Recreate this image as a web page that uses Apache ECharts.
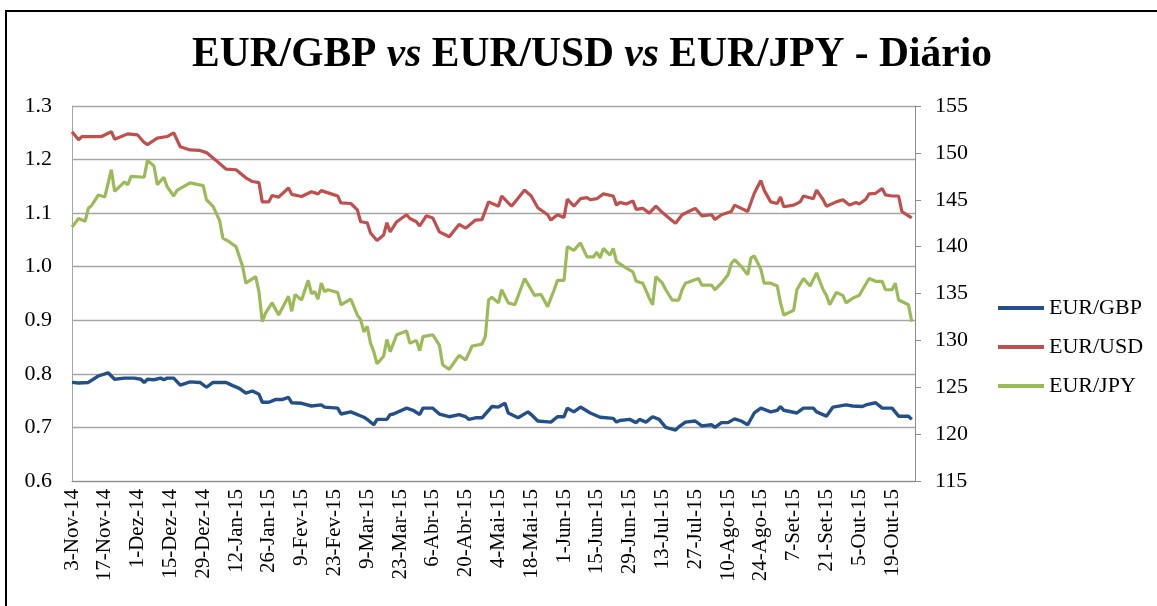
<!DOCTYPE html>
<html>
<head>
<meta charset="utf-8">
<script src="https://cdn.jsdelivr.net/npm/echarts@6/dist/echarts.min.js"></script>
<style>
  html, body { margin: 0; padding: 0; background: #fff; }
  #chart { width: 1157px; height: 606px; }
</style>
</head>
<body>
<div id="chart"></div>
<script>
// x = dia útil a contar de 3-Nov-14 (um rótulo a cada 10 dias)
const tickLabels = [
  "3-Nov-14", "17-Nov-14", "1-Dez-14", "15-Dez-14", "29-Dez-14", "12-Jan-15",
  "26-Jan-15", "9-Fev-15", "23-Fev-15", "9-Mar-15", "23-Mar-15", "6-Abr-15",
  "20-Abr-15", "4-Mai-15", "18-Mai-15", "1-Jun-15", "15-Jun-15", "29-Jun-15",
  "13-Jul-15", "27-Jul-15", "10-Ago-15", "24-Ago-15", "7-Set-15", "21-Set-15",
  "5-Out-15", "19-Out-15"
];
const seriesNames = ["EUR/GBP", "EUR/USD", "EUR/JPY"];

const eurGbp = [
  [0,0.784],[2,0.783],[5,0.784],[8,0.796],[11,0.802],[13,0.790],[16,0.792],[19,0.792],
  [21,0.790],[22,0.784],[23,0.790],[25,0.789],[27,0.792],[28,0.789],[29,0.792],[31,0.792],
  [33,0.779],[36,0.785],[39,0.784],[41,0.775],[43,0.784],[47,0.784],[49,0.778],[51,0.773],
  [53,0.764],[55,0.768],[57,0.762],[58,0.747],[60,0.747],[62,0.752],[64,0.752],[66,0.756],
  [67,0.746],[70,0.745],[73,0.740],[76,0.742],[77,0.738],[81,0.736],[82,0.725],[85,0.729],
  [89,0.719],[90,0.715],[92,0.705],[93,0.715],[96,0.715],[97,0.724],[98,0.725],[102,0.736],
  [104,0.732],[106,0.724],[107,0.736],[110,0.736],[112,0.725],[115,0.720],[118,0.724],[120,0.720],
  [121,0.715],[123,0.718],[125,0.718],[128,0.739],[130,0.738],[132,0.745],[133,0.727],[136,0.718],
  [139,0.729],[140,0.724],[142,0.712],[146,0.710],[148,0.720],[150,0.720],[151,0.736],[153,0.729],
  [155,0.738],[158,0.727],[161,0.719],[165,0.717],[166,0.710],[167,0.713],[170,0.715],[172,0.709],
  [173,0.715],[175,0.710],[177,0.720],[179,0.715],[181,0.700],[184,0.695],[185,0.701],[187,0.710],
  [190,0.712],[192,0.703],[195,0.705],[196,0.700],[198,0.709],[200,0.709],[202,0.716],[204,0.712],
  [206,0.705],[208,0.727],[210,0.736],[213,0.729],[215,0.732],[216,0.739],[217,0.732],[221,0.727],
  [223,0.736],[226,0.736],[227,0.729],[230,0.721],[232,0.738],[236,0.742],[238,0.740],[241,0.739],
  [242,0.742],[245,0.746],[247,0.736],[250,0.736],[252,0.721],[255,0.721],[256,0.715]
];

const eurUsd = [
  [0,1.252],[2,1.237],[3,1.243],[9,1.243],[12,1.252],[13,1.238],[17,1.248],[20,1.246],
  [22,1.232],[23,1.228],[26,1.240],[29,1.243],[31,1.250],[33,1.224],[36,1.218],[39,1.217],
  [41,1.213],[44,1.198],[47,1.182],[50,1.181],[53,1.166],[55,1.159],[57,1.157],[58,1.121],
  [60,1.121],[61,1.133],[63,1.130],[66,1.147],[67,1.135],[70,1.131],[73,1.140],[75,1.136],
  [76,1.142],[79,1.136],[81,1.132],[82,1.119],[85,1.118],[87,1.106],[88,1.084],[90,1.082],
  [91,1.063],[93,1.049],[95,1.059],[96,1.082],[97,1.065],[99,1.084],[102,1.097],[103,1.090],
  [105,1.084],[106,1.076],[108,1.095],[110,1.091],[112,1.065],[115,1.056],[118,1.079],[120,1.072],
  [123,1.087],[125,1.088],[127,1.121],[130,1.113],[131,1.132],[133,1.119],[134,1.113],[138,1.143],
  [140,1.132],[142,1.110],[145,1.097],[146,1.087],[148,1.097],[150,1.092],[151,1.126],[153,1.113],
  [155,1.127],[157,1.129],[158,1.125],[160,1.127],[162,1.136],[165,1.132],[166,1.115],[167,1.120],
  [169,1.117],[171,1.123],[172,1.107],[174,1.109],[176,1.100],[178,1.113],[180,1.101],[183,1.086],
  [184,1.081],[186,1.097],[188,1.103],[190,1.109],[192,1.095],[195,1.097],[196,1.088],[198,1.097],
  [201,1.103],[202,1.115],[206,1.103],[208,1.137],[210,1.161],[211,1.143],[213,1.121],[215,1.118],
  [216,1.130],[217,1.112],[220,1.115],[222,1.121],[223,1.132],[226,1.127],[227,1.143],[229,1.125],
  [230,1.113],[233,1.121],[235,1.125],[237,1.115],[239,1.120],[240,1.117],[242,1.126],[243,1.136],
  [245,1.137],[247,1.146],[248,1.134],[250,1.132],[252,1.132],[253,1.103],[256,1.091]
];

const eurJpy = [
  [0,142.1],[2,143.0],[4,142.7],[5,144.1],[6,144.4],[8,145.5],[10,145.3],[12,148.2],
  [13,145.9],[16,146.9],[17,146.6],[18,147.5],[22,147.4],[23,149.2],[25,148.6],[26,146.6],
  [28,147.4],[29,146.4],[31,145.4],[32,146.0],[36,146.8],[40,146.5],[41,145.0],[43,144.3],
  [45,142.8],[46,140.9],[48,140.5],[50,140.0],[52,137.9],[53,136.1],[56,136.8],[57,135.2],
  [58,132.0],[59,132.9],[61,134.0],[63,132.7],[66,134.7],[67,133.1],[68,134.9],[70,134.3],
  [72,136.4],[73,135.0],[74,135.2],[75,134.4],[76,136.1],[77,135.2],[78,135.4],[81,135.1],
  [82,133.8],[85,134.4],[87,132.7],[88,132.2],[89,130.9],[90,131.5],[91,129.7],[92,128.8],
  [93,127.5],[95,128.3],[96,130.1],[97,128.8],[99,130.6],[102,131.0],[103,129.7],[105,130.0],
  [106,128.9],[107,130.4],[110,130.6],[112,129.5],[113,127.4],[115,126.9],[118,128.4],[120,127.9],
  [122,129.4],[125,129.6],[126,130.4],[127,134.3],[128,134.6],[130,134.0],[131,135.4],[133,134.0],
  [135,133.8],[138,136.6],[141,134.8],[143,134.9],[145,133.6],[147,135.4],[148,136.4],[150,136.4],
  [151,140.0],[153,139.6],[155,140.4],[157,138.9],[159,138.9],[160,139.4],[161,138.8],[162,139.8],
  [164,139.1],[165,139.8],[166,138.4],[169,137.7],[171,137.3],[172,136.3],[174,136.1],[176,134.5],
  [177,133.8],[178,136.8],[180,136.1],[181,135.4],[183,134.3],[185,134.3],[186,135.4],[187,136.1],
  [191,136.6],[192,135.9],[195,135.9],[196,135.4],[198,136.1],[200,137.0],[201,138.2],[202,138.6],
  [204,137.9],[206,137.0],[207,138.8],[208,139.0],[210,137.6],[211,136.1],[213,136.1],[215,135.8],
  [216,134.0],[217,132.7],[220,133.2],[221,135.4],[223,136.6],[225,135.8],[227,137.2],[229,135.4],
  [230,134.8],[231,133.8],[233,135.1],[235,134.8],[236,134.0],[238,134.5],[240,134.8],[241,135.4],
  [243,136.6],[245,136.3],[247,136.3],[248,135.4],[250,135.4],[251,136.1],[252,134.3],[255,133.8],
  [256,132.0]
];

const font = "'Liberation Serif', 'Times New Roman', serif";
const colors = ["#24508a", "#c0504d", "#9bbb59"];

const chart = echarts.init(document.getElementById("chart"));
chart.setOption({
  animation: false,
  backgroundColor: "#fff",
  color: colors,
  graphic: [{
    type: "rect",
    shape: { x: 6, y: 11, width: 1300, height: 800 },
    style: { fill: "none", stroke: "#000", lineWidth: 2 },
    silent: true
  }],
  title: {
    text: "{b|EUR/GBP }{i|vs}{b| EUR/USD }{i|vs}{b| EUR/JPY - Diário}",
    left: 587,
    top: 29,
    textAlign: "center",
    textStyle: {
      rich: {
        b: { fontFamily: font, fontSize: 41.5, fontWeight: "bold", color: "#000" },
        i: { fontFamily: font, fontSize: 41.5, fontWeight: "bold", fontStyle: "italic", color: "#000" }
      }
    }
  },
  legend: {
    orient: "vertical",
    left: 993,
    top: 292,
    itemWidth: 46,
    itemHeight: 4,
    itemGap: 17,
    icon: "rect",
    data: seriesNames,
    textStyle: { fontFamily: font, fontSize: 22, color: "#000" }
  },
  grid: { left: 72, right: 242, top: 106, bottom: 125 },
  xAxis: {
    type: "value",
    min: 0,
    max: 257,
    interval: 10,
    axisLine: { show: true, lineStyle: { color: "#8c8c8c", width: 1 } },
    axisTick: { show: false },
    splitLine: { show: false },
    axisLabel: {
      rotate: 90,
      margin: 8,
      showMaxLabel: false,
      fontFamily: font,
      fontSize: 21,
      color: "#000",
      formatter: v => (v % 10 === 0 ? tickLabels[v / 10] || "" : "")
    }
  },
  yAxis: [
    {
      type: "value",
      min: 0.6,
      max: 1.3,
      interval: 0.1,
      axisLine: { show: true, lineStyle: { color: "#a6a6a6" } },
      axisTick: { show: false },
      splitLine: { show: true, lineStyle: { color: "#a6a6a6", width: 1.3 } },
      axisLabel: {
        margin: 20,
        fontFamily: font,
        fontSize: 22,
        color: "#000",
        formatter: v => v.toFixed(1)
      }
    },
    {
      type: "value",
      min: 115,
      max: 155,
      interval: 5,
      position: "right",
      axisLine: { show: true, lineStyle: { color: "#8c8c8c" } },
      axisTick: { show: true, length: 6, lineStyle: { color: "#8c8c8c" } },
      splitLine: { show: false },
      axisLabel: {
        margin: 20,
        fontFamily: font,
        fontSize: 22,
        color: "#000"
      }
    }
  ],
  series: [
    { name: seriesNames[0], type: "line", data: eurGbp, yAxisIndex: 0, showSymbol: false, lineStyle: { width: 3.4 } },
    { name: seriesNames[1], type: "line", data: eurUsd, yAxisIndex: 0, showSymbol: false, lineStyle: { width: 3.2 } },
    { name: seriesNames[2], type: "line", data: eurJpy, yAxisIndex: 1, showSymbol: false, lineStyle: { width: 3.2 } }
  ]
});
</script>
</body>
</html>
